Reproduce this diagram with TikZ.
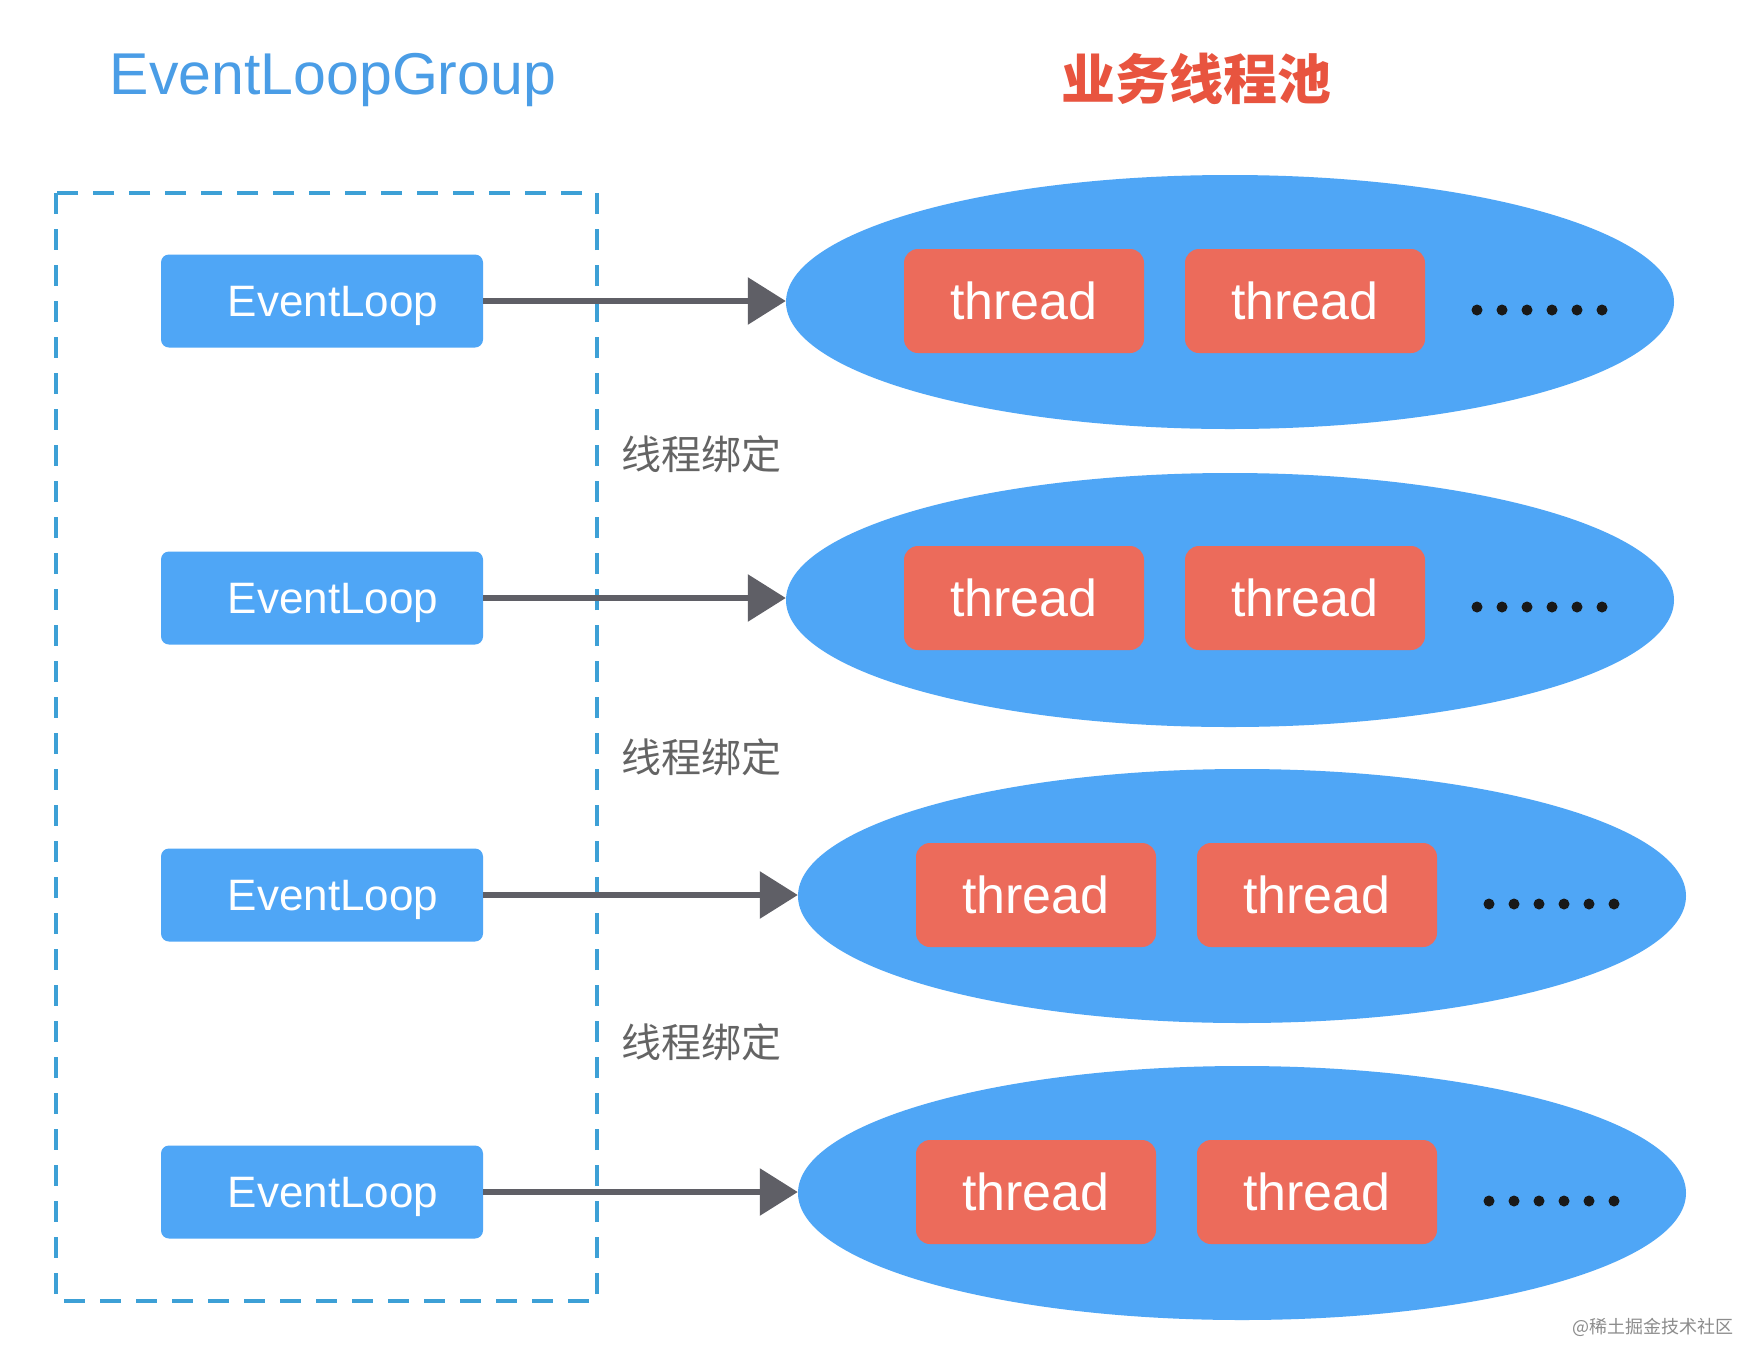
\documentclass[tikz,border=0pt]{standalone}
\usepackage{fontspec}
\setmainfont{Liberation Sans}
\newfontfamily\cjk{Noto Sans CJK SC}
\usetikzlibrary{shapes.geometric,arrows.meta}
\definecolor{elblue}{HTML}{4FA6F6}
\definecolor{thred}{HTML}{EC6B5B}
\definecolor{titleblue}{HTML}{4A9DE6}
\definecolor{titlered}{HTML}{E8543F}
\definecolor{dashblue}{HTML}{3DA0D6}
\definecolor{arrgray}{HTML}{5F5F66}
\definecolor{labgray}{HTML}{646464}
\begin{document}
\begin{tikzpicture}[x=1pt,y=-1pt,
  evbox/.style={draw=none,fill=elblue,rounded corners=8pt,minimum width=322pt,minimum height=93pt,inner sep=0pt,text=white,font=\fontsize{44}{50}\selectfont,text height=32pt,text depth=2pt},
  thbox/.style={draw=none,fill=thred,rounded corners=14pt,minimum width=240pt,minimum height=104pt,inner sep=0pt,text=white,font=\fontsize{52}{58}\selectfont},
  pool/.style={ellipse,draw=none,fill=elblue,minimum width=888pt,minimum height=254pt,inner sep=0pt},
  arr/.style={draw=arrgray,line width=6pt,-{Triangle[length=38pt,width=46pt]}},
  grpline/.style={draw=dashblue,line width=4pt,dash pattern=on 21pt off 15pt},
  bindlab/.style={text=labgray,font=\cjk\fontsize{40}{46}\selectfont,inner sep=0pt},
  dotmark/.style={fill=black!80!gray}
]
\fill[white] (0,0) rectangle (1741,1345);
\useasboundingbox (0,0) rectangle (1741,1345);

% titles
\node[text=titleblue,font=\fontsize{59}{66}\selectfont,inner sep=0pt] (t1) at (333,80) {EventLoopGroup};
\node[text=titlered,font=\cjk\bfseries\fontsize{54}{60}\selectfont,inner sep=0pt] (t2) at (1196,79) {业务线程池};

% group container
\draw[grpline] (56,193) rectangle (597,1301);

% pools
\node[pool] (p1) at (1230,302) {};
\node[pool] (p2) at (1230,600) {};
\node[pool] (p3) at (1242,896) {};
\node[pool] (p4) at (1242,1193) {};

% threads
\node[thbox] (a1) at (1024,301) {thread};
\node[thbox] (b1) at (1305,301) {thread};
\node[thbox] (a2) at (1024,598) {thread};
\node[thbox] (b2) at (1305,598) {thread};
\node[thbox] (a3) at (1036,895) {thread};
\node[thbox] (b3) at (1317,895) {thread};
\node[thbox] (a4) at (1036,1192) {thread};
\node[thbox] (b4) at (1317,1192) {thread};

% dots
\foreach \x/\y in {1477/310,1477/607,1489/904,1489/1201}{
  \foreach \i in {0,...,5}{
    \fill[dotmark] (\x+\i*25,\y) circle (5.5pt);
  }
}

% event loops
\node[evbox] (e1) at (322,301) {\hspace{22pt}EventLoop};
\node[evbox] (e2) at (322,598) {\hspace{22pt}EventLoop};
\node[evbox] (e3) at (322,895) {\hspace{22pt}EventLoop};
\node[evbox] (e4) at (322,1192) {\hspace{22pt}EventLoop};

% arrows
\draw[arr] (e1.east) -- (e1.east -| p1.west);
\draw[arr] (e2.east) -- (e2.east -| p2.west);
\draw[arr] (e3.east) -- (e3.east -| p3.west);
\draw[arr] (e4.east) -- (e4.east -| p4.west);

% binding labels
\node[bindlab] (l1) at (701,454) {线程绑定};
\node[bindlab] (l2) at (701,757) {线程绑定};
\node[bindlab] (l3) at (701,1042) {线程绑定};

% watermark
\node[text=black!45,font=\cjk\fontsize{18}{20}\selectfont,anchor=east,inner sep=0pt] (wm) at (1734,1327) {@稀土掘金技术社区};
\end{tikzpicture}
\end{document}
